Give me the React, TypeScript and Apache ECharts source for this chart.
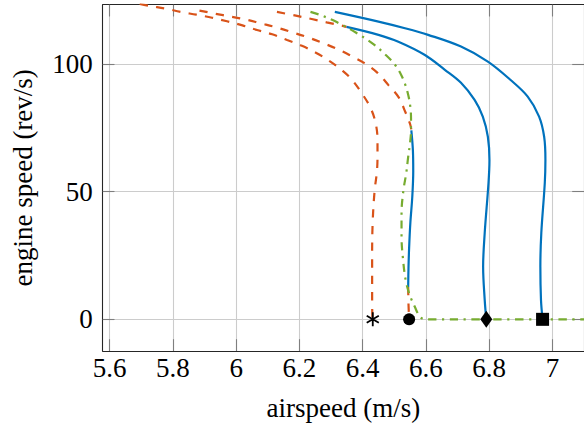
import React, { useEffect, useRef } from "react";
import * as echarts from "echarts";

// ---- data (airspeed m/s, engine speed rev/s) ----
const xTicks = [5.6, 5.8, 6.0, 6.2, 6.4, 6.6, 6.8, 7.0];
const yTicks = [0, 50, 100];

const orangeA: number[][] = [
  [5.695, 123.5], [5.727, 122.7], [5.776, 121.7], [5.824, 120.4], [5.874, 119.3],
  [5.924, 118.1], [5.971, 116.7], [6.02, 115.1], [6.066, 113.3], [6.114, 111.6],
  [6.161, 109.4], [6.208, 107.1], [6.255, 104.2], [6.298, 100.9], [6.337, 97.3],
  [6.365, 94.0], [6.397, 88.6], [6.425, 82.8], [6.441, 76.9], [6.447, 70.2],
  [6.447, 63.6], [6.445, 57.7], [6.438, 50.6], [6.432, 38.9], [6.43, 26.0],
  [6.43, 6.4], [6.431, 0],
];
const orangeB: number[][] = [
  [5.884, 120.9], [5.933, 119.7], [5.984, 118.5], [6.031, 117.4], [6.078, 115.9],
  [6.125, 114.4], [6.177, 112.4], [6.225, 110.5], [6.272, 108.3], [6.319, 105.9],
  [6.364, 103.1], [6.406, 100.3], [6.448, 96.4], [6.481, 91.8], [6.513, 87.1],
  [6.535, 81.2], [6.551, 76.1], [6.554, 74.0],
];
const blueB: number[][] = [
  [6.554, 74.0], [6.559, 66.0], [6.56, 58.0], [6.557, 48.0], [6.551, 38.0],
  [6.547, 28.0], [6.545, 20.0], [6.544, 12.7],
];
const orangeBTail: number[][] = [[6.544, 12.7], [6.545, 6.0], [6.547, 0]];
const orangeC: number[][] = [
  [6.129, 120.4], [6.189, 118.9], [6.239, 117.6], [6.286, 116.3], [6.337, 114.9], [6.349, 114.5],
];
const blueC: number[][] = [
  [6.349, 114.5], [6.45, 111.4], [6.513, 108.7], [6.597, 103.5], [6.66, 97.7],
  [6.711, 92.6], [6.754, 85.9], [6.78, 79.4], [6.796, 71.5], [6.801, 62.4],
  [6.798, 53.4], [6.786, 33.8], [6.781, 20.6], [6.786, 7.6], [6.791, 0],
];
const blueD: number[][] = [
  [6.312, 120.4], [6.45, 116.6], [6.534, 114.0], [6.607, 111.4], [6.711, 106.8],
  [6.796, 100.9], [6.868, 93.7], [6.922, 87.2], [6.958, 79.4], [6.974, 71.5],
  [6.978, 62.4], [6.976, 53.4], [6.965, 33.8], [6.962, 20.6], [6.964, 7.6], [6.969, 0],
];
const greenLine: number[][] = [
  [6.235, 120.4], [6.27, 119.0], [6.318, 116.4], [6.377, 112.4], [6.434, 107.8],
  [6.475, 103.3], [6.503, 99.6], [6.522, 95.7], [6.535, 91.8], [6.544, 87.9],
  [6.55, 84.0], [6.553, 78.8], [6.553, 74.1], [6.55, 69.1], [6.544, 63.6],
  [6.538, 57.3], [6.529, 50.6], [6.523, 41.6], [6.523, 32.2], [6.528, 23.2],
  [6.536, 15.4], [6.549, 9.5], [6.565, 4.9], [6.581, 1.0], [6.597, 0], [7.2, 0],
];
const starPt = [[6.432, 0]];
const circlePt = [[6.547, 0]];
const diamondPt = [[6.791, 0]];
const squarePt = [[6.969, 0]];

const BLUE = "#0072BD";
const ORANGE = "#D95319";
const GREEN = "#77AC30";
const FONT = '"Liberation Serif", "Times New Roman", serif';

function asteriskPath(): string {
  const L = 100, w = 13;
  let d = "";
  [90, 30, 150].forEach((a) => {
    const r = (a * Math.PI) / 180;
    const dx = Math.cos(r), dy = Math.sin(r);
    const nx = -dy, ny = dx;
    const pts = [
      [-L * dx + w * nx, -L * dy + w * ny],
      [L * dx + w * nx, L * dy + w * ny],
      [L * dx - w * nx, L * dy - w * ny],
      [-L * dx - w * nx, -L * dy - w * ny],
    ];
    d += "M" + pts.map((p) => (p[0] + 120).toFixed(1) + " " + (p[1] + 120).toFixed(1)).join(" L") + " Z ";
  });
  return "path://" + d;
}

export default function App() {
  const ref = useRef<HTMLDivElement>(null);
  useEffect(() => {
    if (!ref.current) return;
    const chart = echarts.init(ref.current, undefined, { renderer: "svg" });
    const axisLine = { show: true, onZero: false, lineStyle: { color: "#262626", width: 1.1 } };
    const tick = (vals: number[]) => ({
      show: true, inside: true, length: 11.8, customValues: vals,
      lineStyle: { color: "#7f7f7f", width: 1.1 },
    });
    const lbl = { fontFamily: FONT, fontSize: 27, color: "#000" };
    const fmt = (v: number) => String(Math.round(v * 10) / 10);
    const dashed = [8.3, 8.3];
    const dashDot = [8.3, 5.6, 2.2, 5.6];
    const lineS = (data: number[][], color: string, type: any, z = 2) => ({
      type: "line", data, showSymbol: false, symbol: "none", smooth: 0.35, z,
      lineStyle: { color, width: 2.2, type, cap: "butt" },
      silent: true,
    });
    const mark = (data: number[][], symbol: string, size: any) => ({
      type: "scatter", data, symbol, symbolSize: size, z: 10,
      itemStyle: { color: "#000", opacity: 1 }, silent: true,
    });
    chart.setOption({
      animation: false,
      grid: { left: 102.7, top: 4.7, right: -2.7, bottom: 75, containLabel: false },
      xAxis: [
        {
          type: "value", min: 5.578, max: 7.1, position: "bottom",
          name: "airspeed (m/s)", nameLocation: "middle", nameGap: 43,
          nameTextStyle: lbl,
          axisLine, axisTick: tick(xTicks),
          axisLabel: { ...lbl, customValues: xTicks, formatter: fmt, margin: 3 },
          splitLine: { show: true, lineStyle: { color: "#cccccc", width: 1.1 } },
        },
        {
          type: "value", min: 5.578, max: 7.1, position: "top",
          axisLine, axisTick: tick(xTicks),
          axisLabel: { show: false, customValues: xTicks }, splitLine: { show: false },
        },
      ],
      yAxis: [
        {
          type: "value", min: -12.4, max: 123.2, position: "left",
          name: "engine speed (rev/s)", nameLocation: "middle", nameGap: 66,
          nameTextStyle: lbl,
          axisLine, axisTick: tick(yTicks),
          axisLabel: { ...lbl, customValues: yTicks, formatter: fmt, margin: 10 },
          splitLine: { show: true, lineStyle: { color: "#cccccc", width: 1.1 } },
        },
        {
          type: "value", min: -12.4, max: 123.2, position: "right",
          axisLine, axisTick: tick(yTicks),
          axisLabel: { show: false, customValues: yTicks }, splitLine: { show: false },
        },
      ],
      series: [
        lineS(orangeA, ORANGE, dashed),
        lineS(orangeB, ORANGE, dashed),
        lineS(orangeBTail, ORANGE, dashed),
        lineS(orangeC, ORANGE, dashed),
        lineS(blueB, BLUE, "solid", 3),
        lineS(blueC, BLUE, "solid", 3),
        lineS(blueD, BLUE, "solid", 3),
        lineS(greenLine, GREEN, dashDot, 4),
        mark(starPt, asteriskPath(), [13, 14]),
        mark(circlePt, "circle", 12),
        mark(diamondPt, "diamond", [12, 17]),
        mark(squarePt, "rect", 13),
      ],
    });
    return () => chart.dispose();
  }, []);
  return (
    <div
      ref={ref}
      style={{ position: "fixed", left: 0, top: 0, width: 584, height: 426, background: "#fff" }}
    />
  );
}
